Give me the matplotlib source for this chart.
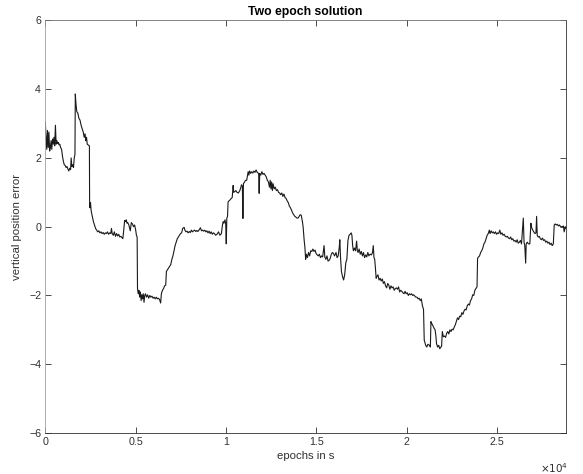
import numpy as np
import matplotlib
matplotlib.use('Agg')
import matplotlib.pyplot as plt

# epoch time (s) and vertical position error
t = [0, 40, 80, 120, 160, 200, 240, 280, 320, 360, 400, 440, 480, 520, 560,
     600, 640, 680, 720, 760, 800, 850, 900, 950, 1000, 1050, 1100, 1150, 1200,
     1250, 1300, 1350, 1400, 1430, 1470, 1520, 1560, 1600, 1640, 1660, 1700,
     1740, 1800, 1860, 1920, 1980, 2040, 2100, 2150, 2200, 2240, 2280, 2320,
     2370, 2440, 2450, 2470, 2500, 2540, 2600, 2660, 2720, 2780, 2840, 2900,
     2960, 3020, 3080, 3140, 3200, 3260, 3320, 3380, 3440, 3500, 3560, 3620,
     3660, 3700, 3760, 3820, 3880, 3940, 4000, 4060, 4120, 4180, 4240, 4290,
     4340, 4390, 4440, 4480, 4520, 4560, 4620, 4700, 4760, 4820, 4880, 4940,
     5000, 5040, 5080, 5100,
     5140, 5180, 5220, 5260, 5300, 5340, 5380, 5420, 5460, 5500, 5540, 5600,
     5660, 5720, 5780, 5840, 5900, 5960, 6020, 6080, 6140, 6200, 6260, 6320,
     6380, 6420, 6480, 6540, 6600, 6660, 6700, 6760, 6820, 6880, 6940, 7000,
     7060, 7120, 7180, 7240, 7300, 7360, 7420, 7480, 7540, 7600, 7680, 7720,
     7780, 7840, 7900, 7960, 8020, 8080, 8140, 8200, 8260, 8320, 8380, 8440,
     8500, 8580, 8640, 8700, 8760, 8820, 8880, 8940, 9000, 9060, 9120, 9180,
     9240, 9300, 9360, 9420, 9500, 9580, 9660, 9740, 9800, 9840, 9880, 9940,
     9980, 10010, 10040, 10080, 10110, 10160, 10220, 10280, 10340, 10390,
     10420, 10480, 10540,
     10600, 10680, 10760, 10820, 10850, 10900, 10930, 10960, 11020, 11080,
     11140, 11220, 11260, 11300, 11360, 11420, 11480, 11540, 11600, 11660,
     11720, 11800, 11830, 11860, 11920, 11980, 12040, 12100, 12160, 12220,
     12280, 12340, 12400, 12440, 12480, 12520, 12560, 12600, 12660, 12720,
     12780, 12840, 12900, 12960, 13020, 13080, 13140, 13200, 13260, 13320,
     13380, 13440, 13500, 13560, 13620, 13680, 13740, 13800, 13860, 13920,
     13980, 14040, 14100, 14160, 14220, 14260, 14320, 14360, 14400, 14440,
     14500, 14560, 14620, 14680, 14740, 14800, 14860, 14920, 14980, 15040,
     15100, 15160, 15220, 15280, 15340, 15420, 15460, 15520, 15580, 15640,
     15700, 15760, 15820, 15880, 15940, 16000,
     16080, 16140, 16200, 16260, 16290, 16330, 16380, 16440, 16500, 16560,
     16620, 16680, 16740, 16800, 16860, 16920, 16960, 17000, 17040, 17100,
     17160, 17220, 17260, 17300, 17360, 17420, 17480, 17540, 17600, 17660,
     17720, 17780, 17840, 17900, 17960, 18040, 18100, 18140, 18180, 18220,
     18260, 18300, 18340, 18400, 18460, 18520, 18580, 18640, 18700, 18760,
     18820, 18880, 18940, 19000, 19060, 19120, 19180, 19240, 19300, 19360,
     19420, 19480, 19540, 19600, 19660, 19720, 19780, 19840, 19900, 19960,
     20020, 20080, 20140, 20200, 20260, 20320, 20380, 20440, 20500, 20560,
     20620, 20680, 20740, 20800, 20860, 20920, 20960, 21000, 21040, 21100,
     21160, 21250, 21300, 21330, 21380, 21440, 21500, 21560, 21600, 21640,
     21700, 21760, 21820, 21880, 21920, 21960, 22020, 22080, 22140, 22200,
     22260, 22320, 22380, 22440, 22500, 22560, 22620, 22680, 22740, 22800,
     22860, 22920, 22980, 23040, 23100, 23160, 23220, 23280, 23340, 23400,
     23460, 23520, 23580, 23640, 23700, 23760, 23820, 23880, 23910, 23960,
     24020, 24080, 24140, 24200, 24260, 24320, 24380, 24440, 24500, 24560,
     24600, 24660, 24720, 24780, 24840, 24900, 24960, 25020, 25080, 25140,
     25200, 25260, 25320, 25380, 25440, 25500, 25560, 25620, 25680, 25740,
     25800, 25860, 25920, 25980, 26040, 26100, 26160, 26220, 26280, 26340,
     26440, 26480, 26520, 26570, 26600, 26660, 26720, 26800, 26860, 26900,
     26960, 27020, 27080, 27140, 27175, 27210, 27260, 27320, 27380, 27440,
     27500, 27560, 27620, 27680, 27740, 27800, 27860, 27920, 27980, 28040,
     28100, 28150, 28200, 28260, 28320, 28380, 28440, 28500, 28600, 28660,
     28700, 28760, 28800]

err = [3.05, 2.6, 2.25, 2.8, 2.3, 2.75, 2.2, 2.3, 2.5, 2.25, 2.55, 2.4, 2.6, 2.35, 2.95,
       2.4, 2.5, 2.42, 2.45, 2.38, 2.4, 2.3, 2.25, 2.05, 1.9, 1.8, 1.78, 1.72, 1.75,
       1.68, 1.62, 1.7, 1.66, 2.0, 1.75, 1.8, 1.72, 2.0, 2.1, 3.86, 3.55,
       3.35, 3.3, 3.15, 3.1, 2.95, 2.85, 2.75, 2.6, 2.7, 2.5, 2.6, 2.4,
       2.38, 2.35, 0.75, 0.55, 0.7, 0.45, 0.3, 0.15, 0.05, -0.05, -0.1, -0.15,
       -0.12, -0.18, -0.15, -0.2, -0.17, -0.22, -0.18, -0.2, -0.15, -0.22, -0.18, -0.2,
       -0.05, -0.2, -0.25, -0.15, -0.28, -0.2, -0.27, -0.22, -0.3, -0.28, -0.32, -0.35,
       -0.1, 0.18, 0.15, 0.2, 0.1, 0.12, 0.05, -0.12, 0.12, 0.08, 0.0, 0.05,
       -0.1, -0.25, -0.3, -1.8,
       -1.95, -1.85, -2.05, -1.9, -2.15, -1.98, -2.1, -1.95, -2.2, -2.0, -1.95, -2.05,
       -1.98, -2.08, -2.0, -2.05, -2.02, -2.08, -2.05, -2.1, -2.05, -2.1, -2.08, -2.12,
       -2.22, -1.95, -1.85, -1.8, -1.72, -1.7, -1.3, -1.25, -1.2, -1.15, -1.1, -0.95,
       -0.85, -0.7, -0.55, -0.45, -0.35, -0.3, -0.25, -0.2, -0.18, -0.05, -0.02, -0.1,
       -0.15, -0.13, -0.18, -0.14, -0.17, -0.1, -0.15, -0.12, -0.1, -0.14, -0.11, -0.14,
       -0.1, -0.03, -0.12, -0.1, -0.13, -0.1, -0.15, -0.12, -0.18, -0.13, -0.2, -0.15,
       -0.22, -0.18, -0.2, -0.25, -0.22, -0.15, -0.25, -0.2, 0.05, 0.15, 0.1, 0.2,
       0.08, -0.5, 0.25, 0.3, 0.72, 0.75, 0.78, 0.82, 0.85, 1.2,
       1.0, 1.02, 1.05,
       1.0, 0.98, 1.05, 1.15, 1.22, 1.18, 0.24, 1.25, 1.3, 1.35,
       1.35, 1.6, 1.5, 1.62, 1.55, 1.6, 1.56, 1.62, 1.58, 1.65,
       1.58, 1.55, 0.97, 1.55, 1.5, 1.6, 1.52, 1.55, 1.5, 1.45,
       1.35, 1.3, 1.15, 1.35, 1.1, 1.3, 1.05, 1.25, 1.1, 1.15,
       1.05, 1.08, 1.0, 0.98, 0.93, 0.98, 0.88, 0.95, 0.85, 0.82,
       0.75, 0.7, 0.6, 0.55, 0.48, 0.4, 0.35, 0.3, 0.28, 0.25,
       0.25, 0.3, 0.35, 0.33, 0.15, 0.0, -0.4, -0.6, -0.95, -0.8,
       -0.9, -0.75, -0.85, -0.7, -0.72, -0.65, -0.72, -0.68, -0.78, -0.82,
       -0.85, -0.8, -0.9, -0.85, -0.88, -0.55, -0.88, -0.95, -0.85, -1.0,
       -0.98, -0.92, -0.8, -0.75, -0.78, -0.85,
       -0.75, -0.9, -0.85, -0.6, -0.38, -0.9, -1.3, -1.45, -1.55, -1.4,
       -1.05, -0.95, -0.4, -0.25, -0.22, -0.18, -0.25, -0.55, -0.7, -0.62,
       -0.7, -0.42, -0.7, -0.75, -0.65, -0.8, -0.72, -0.85, -0.75, -0.9,
       -0.82, -0.88, -0.75, -0.85, -0.8, -0.82, -0.75, -0.55, -0.9, -0.95,
       -1.2, -1.5, -1.45, -1.4, -1.55, -1.5, -1.58, -1.52, -1.65, -1.6,
       -1.72, -1.78, -1.65, -1.7, -1.82, -1.72, -1.78, -1.75, -1.85, -1.8,
       -1.78, -1.82, -1.75, -1.9, -1.85, -1.88, -1.92, -1.95, -1.88, -1.95,
       -1.92, -2.0, -1.95, -1.98, -1.95, -2.0, -1.98, -2.02, -2.05, -2.05,
       -2.1, -2.08, -2.15, -2.1, -2.3, -2.4, -3.3, -3.38, -3.45, -3.5,
       -3.42, -3.45, -3.5, -2.76, -2.82, -2.88, -2.95, -3.0, -3.15, -3.4,
       -3.5, -3.45, -3.55, -3.5, -3.48, -3.05, -3.2, -3.18, -3.22, -3.1,
       -3.05, -3.12, -3.0, -3.05, -2.98, -3.0, -2.92, -2.85, -2.75, -2.65,
       -2.7, -2.6, -2.62, -2.5, -2.55, -2.45, -2.4, -2.42, -2.3, -2.25,
       -2.28, -2.15, -2.1, -1.98, -2.0, -1.85, -1.8, -1.75, -0.92, -0.88,
       -0.85, -0.75, -0.7, -0.62, -0.5, -0.45, -0.35, -0.25, -0.2, -0.1,
       -0.2, -0.12, -0.18, -0.15, -0.2, -0.15, -0.22, -0.18, -0.2, -0.1,
       -0.22, -0.18, -0.25, -0.22, -0.28, -0.3, -0.28, -0.33, -0.35, -0.3,
       -0.38, -0.35, -0.42, -0.4, -0.45, -0.38, -0.48, -0.45, -0.4, -0.5,
       0.25, -0.45, -0.55, -1.06, -0.5, -0.45, -0.5, -0.5, 0.1, -0.02,
       -0.1, -0.15, -0.2, -0.18, 0.3, -0.25, -0.3, -0.28, -0.35, -0.38,
       -0.33, -0.4, -0.38, -0.45, -0.42, -0.48, -0.45, -0.52, -0.48, -0.55,
       -0.5, 0.05, 0.08, 0.05, 0.07, 0.02, 0.05, 0.0, 0.0, 0.02,
       -0.15, 0.0, -0.05]

xticks = [0, 0.5, 1, 1.5, 2, 2.5]
yticks = [-6, -4, -2, 0, 2, 4, 6]

plt.rcParams['font.family'] = ['Liberation Sans', 'DejaVu Sans']
fig = plt.figure(figsize=(5.83, 4.74), dpi=100)
ax = fig.add_axes([0.0777, 0.0865, 0.8931, 0.8705])

ax.plot(np.array(t) / 1e4, err, color='#1a1a1a', linewidth=0.8)

ax.set_xlim(0, 2.88)
ax.set_ylim(-6, 6)
ax.set_xticks(xticks)
ax.set_xticklabels(['0', '0.5', '1', '1.5', '2', '2.5'])
ax.set_yticks(yticks)
ax.tick_params(direction='in', length=4, width=0.6, top=True, right=True,
               labelsize=7.7, colors='#303030', pad=3)
for s in ax.spines.values():
    s.set_linewidth(0.6)
    s.set_color('#303030')
ax.spines['left'].set_color('#a0a0a0')
ax.spines['top'].set_color('#707070')

ax.set_title('Two epoch solution', fontsize=8.8, fontweight='bold', pad=4)
ax.set_xlabel('epochs in s', fontsize=8.2, color='#303030', labelpad=3)
ax.set_ylabel('vertical position error', fontsize=8.2, color='#303030', labelpad=5)
ax.text(1.005, -0.085, r'$\times10^4$', transform=ax.transAxes, ha='right',
        va='center', fontsize=7.5, color='#303030')

fig.savefig('out.png', dpi=100)
